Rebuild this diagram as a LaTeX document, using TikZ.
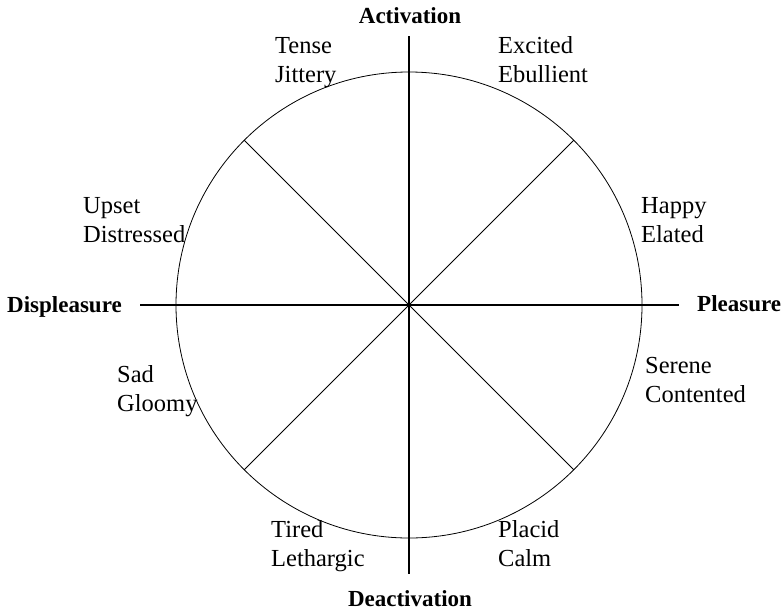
\documentclass[tikz,border=0pt]{standalone}
\usepackage{fontspec}
\setmainfont{Liberation Serif}

\begin{document}
\begin{tikzpicture}[
    x=1pt, y=-1pt,
    axis/.style={line width=1.3pt},
    wheel/.style={line width=0.8pt},
    mood/.style={align=left, inner sep=0pt, anchor=base west,
                 font=\fontsize{24.5}{29}\selectfont},
    pole/.style={inner sep=0pt, anchor=base,
                 font=\bfseries\fontsize{23}{28}\selectfont}
]
    \useasboundingbox (0,0) rectangle (783,613);

    % centre and axis ends
    \coordinate (O) at (409,305);
    \coordinate (up) at (409,36);
    \coordinate (down) at (409,574);
    \coordinate (left) at (140,305);
    \coordinate (right) at (679,305);

    \draw[wheel] (O) circle (233);
    \draw[wheel] ([shift={(45:233)}]O) -- ([shift={(225:233)}]O);
    \draw[wheel] ([shift={(135:233)}]O) -- ([shift={(-45:233)}]O);
    \draw[axis] (up) -- (down);
    \draw[axis] (left) -- (right);

    % poles
    \node[pole] (act) at (410,23) {Activation};
    \node[pole] (deact) at (410,606) {Deactivation};
    \node[pole, anchor=base west] (displ) at (7,312) {Displeasure};
    \node[pole, anchor=base west] (pleas) at (697,311) {Pleasure};

    % moods (anchored at the baseline of the last line)
    \node[mood] (tense) at (275,82) {Tense\\Jittery};
    \node[mood] (excited) at (498,82) {Excited\\Ebullient};
    \node[mood] (upset) at (83,242) {Upset\\Distressed};
    \node[mood] (happy) at (641,242) {Happy\\Elated};
    \node[mood] (sad) at (117,411) {Sad\\Gloomy};
    \node[mood] (serene) at (645,402) {Serene\\Contented};
    \node[mood] (tired) at (271,566) {Tired\\Lethargic};
    \node[mood] (placid) at (498,566) {Placid\\Calm};
\end{tikzpicture}
\end{document}
